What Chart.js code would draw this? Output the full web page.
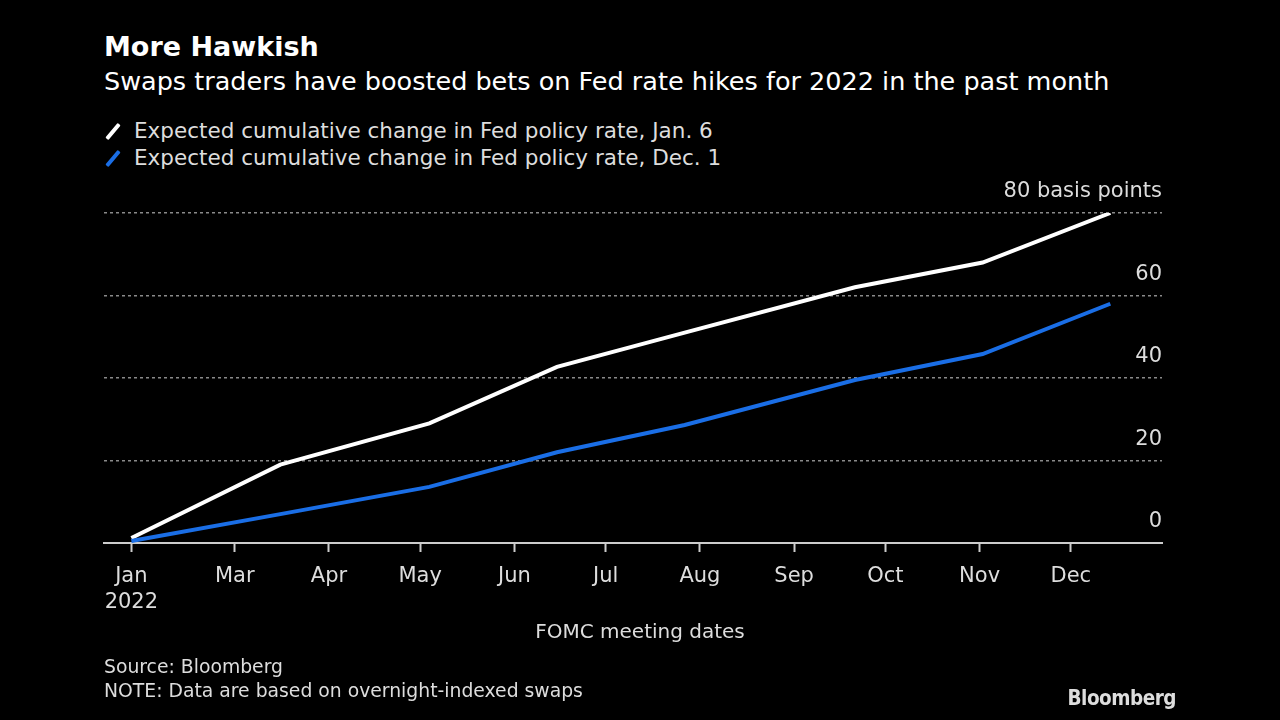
<!DOCTYPE html>
<html>
<head>
<meta charset="utf-8">
<script src="https://cdn.jsdelivr.net/npm/chart.js@4"></script>
<style>
  html, body { margin: 0; padding: 0; background: #000; }
  body { width: 1280px; height: 720px; position: relative; overflow: hidden;
         font-family: 'DejaVu Sans', sans-serif; color: #e6e6e6; }
  #chart { position: absolute; left: 0; top: 0; }
  .t { position: absolute; white-space: nowrap; }
  #title { left: 104px; top: 31px; font-size: 27px; font-weight: bold; color: #fff; }
  #subtitle { left: 104px; top: 66px; font-size: 25.5px; color: #fff; }
  .leg { left: 104px; font-size: 21.5px; color: #ddd; }
  .leg i { display: inline-block; width: 4px; height: 19px; margin: 0 19px 0 7px; vertical-align: -3px; transform: rotate(40deg); border-radius: 1px; }
  #xtitle { left: 0; width: 1280px; text-align: center; top: 619px; font-size: 20px; color: #ddd; }
  .foot { left: 104px; font-size: 18.8px; color: #ddd; }
  #logo { right: 104px; top: 686px; font-size: 20.5px; font-weight: bold; color: #ddd; letter-spacing: -0.5px;
          font-family: 'DejaVu Sans Condensed', 'DejaVu Sans', sans-serif; }
</style>
</head>
<body>
<div class="t" id="title">More Hawkish</div>
<div class="t" id="subtitle">Swaps traders have boosted bets on Fed rate hikes for 2022 in the past month</div>
<div class="t leg" style="top:118px"><i style="background:#fff"></i>Expected cumulative change in Fed policy rate, Jan. 6</div>
<div class="t leg" style="top:145px"><i style="background:#1a6ee6"></i>Expected cumulative change in Fed policy rate, Dec. 1</div>
<canvas id="chart" width="1280" height="720"></canvas>
<div class="t" id="xtitle">FOMC meeting dates</div>
<div class="t foot" style="top:656px">Source: Bloomberg</div>
<div class="t foot" style="top:680px">NOTE: Data are based on overnight-indexed swaps</div>
<div class="t" id="logo">Bloomberg</div>
<script>
// FOMC meeting dates 2022 as day-of-year
const meetingDays = [26, 75, 124, 166, 208, 264, 306, 348];
// Expected cumulative change (basis points)
const jan6Values = [1.2, 19, 29, 42.7, 51, 62, 68, 80];
const dec1Values = [0.5, 7, 13.6, 22, 28.6, 39.5, 45.8, 58];
// x-axis month ticks (day-of-year) and labels
const monthTickDays = [26, 60, 91, 121, 152, 182, 213, 244, 274, 305, 335];
const monthTickLabels = [['Jan', '2022'], 'Mar', 'Apr', 'May', 'Jun', 'Jul', 'Aug', 'Sep', 'Oct', 'Nov', 'Dec'];
const yTicks = [0, 20, 40, 60, 80];
const yTickLabels = ['0', '20', '40', '60', '80 basis points'];

const FONT = "'DejaVu Sans', sans-serif";

const toPoints = vals => meetingDays.map((d, i) => ({ x: d, y: vals[i] }));

new Chart(document.getElementById('chart'), {
  type: 'line',
  data: {
    datasets: [
      { label: 'Dec. 1', data: toPoints(dec1Values), borderColor: '#1a6ee6', borderWidth: 4, pointRadius: 0, tension: 0 },
      { label: 'Jan. 6', data: toPoints(jan6Values), borderColor: '#ffffff', borderWidth: 4, pointRadius: 0, tension: 0 }
    ]
  },
  options: {
    responsive: false,
    animation: false,
    devicePixelRatio: 1,
    layout: { padding: { left: 104, right: 118, top: 213, bottom: 97 } },
    plugins: { legend: { display: false }, tooltip: { enabled: false } },
    scales: {
      x: {
        type: 'linear',
        min: 17, max: 365,
        afterBuildTicks: s => { s.ticks = monthTickDays.map(v => ({ value: v })); },
        afterFit: s => { s.height = 80; },
        grid: { display: true, drawOnChartArea: false, drawTicks: true, tickLength: 9, tickColor: '#cccccc', tickWidth: 2 },
        border: { display: true, color: '#cccccc', width: 2 },
        ticks: {
          color: '#dddddd', font: { family: FONT, size: 21, lineHeight: 1.25 }, padding: 11, maxRotation: 0, autoSkip: false,
          callback: (v, i) => monthTickLabels[i]
        }
      },
      y: {
        position: 'right',
        min: 0, max: 80,
        afterBuildTicks: s => { s.ticks = yTicks.map(v => ({ value: v })); },
        afterFit: s => { s.width = 0; },
        grid: { color: '#8a8a8a', lineWidth: 1.5, drawTicks: false },
        border: { display: false, dash: [3, 3] },
        ticks: {
          mirror: true, padding: 0, labelOffset: -21,
          color: '#dddddd', font: { family: FONT, size: 21 },
          callback: (v, i) => yTickLabels[i]
        }
      }
    }
  }
});
</script>
</body>
</html>
